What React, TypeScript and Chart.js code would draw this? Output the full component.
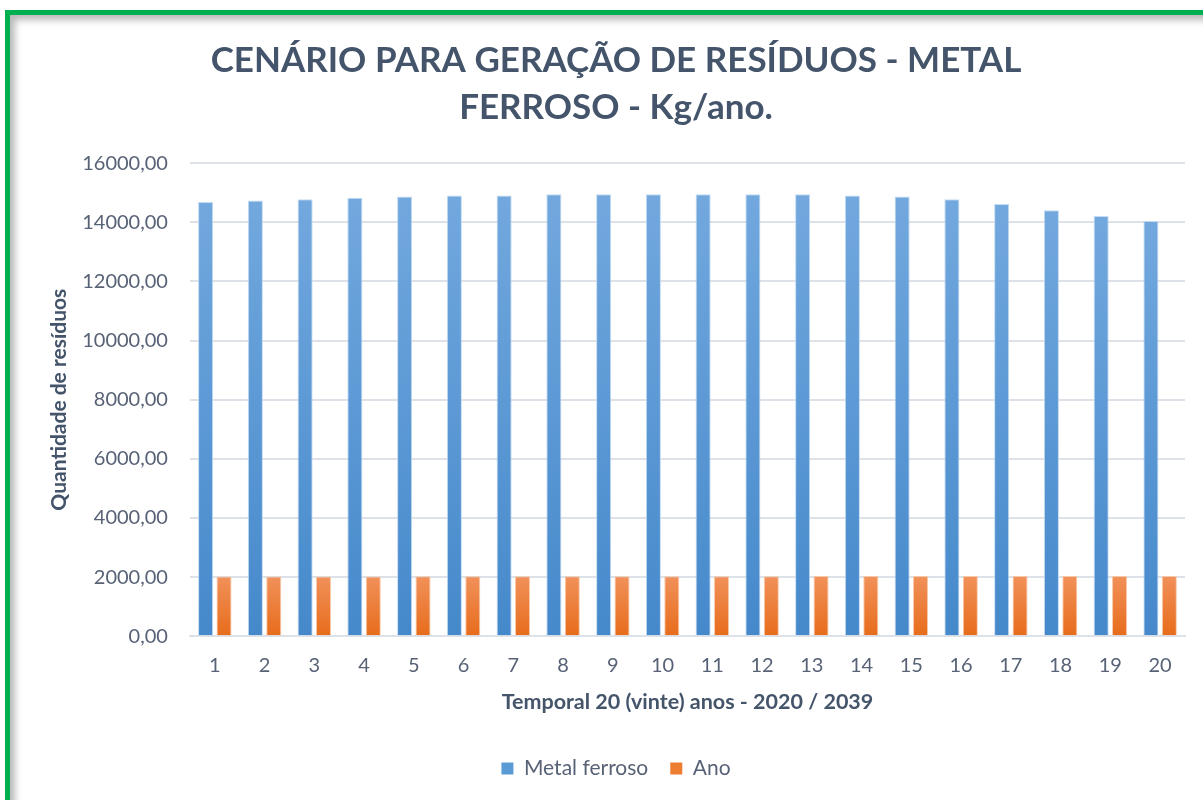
import React, { useEffect, useRef } from "react";
import { Chart, registerables } from "chart.js";

Chart.register(...registerables);

const categories = ["1", "2", "3", "4", "5", "6", "7", "8", "9", "10", "11", "12", "13", "14", "15", "16", "17", "18", "19", "20"];
const metalFerroso = [14690, 14740, 14780, 14830, 14870, 14910, 14910, 14950, 14950, 14950, 14950, 14950, 14950, 14910, 14870, 14780, 14620, 14410, 14210, 14040];
const ano = [2020, 2021, 2022, 2023, 2024, 2025, 2026, 2027, 2028, 2029, 2030, 2031, 2032, 2033, 2034, 2035, 2036, 2037, 2038, 2039];
const yTicks = [0, 2000, 4000, 6000, 8000, 10000, 12000, 14000, 16000];

const titleLines = ["CENÁRIO PARA GERAÇÃO DE RESÍDUOS - METAL", "FERROSO - Kg/ano."];
const yTitle = "Quantidade de resíduos";
const xTitle = "Temporal 20 (vinte) anos - 2020 / 2039";
const seriesNames = ["Metal ferroso", "Ano"];

const FONT = "Lato, 'Open Sans', sans-serif";
const TITLE_COLOR = "#44546a";
const TICK_COLOR = "#586276";

function barGradient(top: string, bottom: string) {
  return (context: any) => {
    const chart = context.chart;
    const y = chart.scales && chart.scales.y;
    if (!y || context.raw == null) return bottom;
    const y0 = y.getPixelForValue(0);
    const y1 = y.getPixelForValue(context.raw);
    if (!isFinite(y0) || !isFinite(y1) || y0 === y1) return bottom;
    const g = chart.ctx.createLinearGradient(0, y1, 0, y0);
    g.addColorStop(0, top);
    g.addColorStop(1, bottom);
    return g;
  };
}

export default function App() {
  const ref = useRef<HTMLCanvasElement>(null);

  useEffect(() => {
    if (!ref.current) return;
    const chart = new Chart(ref.current, {
      type: "bar",
      data: {
        labels: categories,
        datasets: [
          {
            label: seriesNames[0],
            data: metalFerroso,
            backgroundColor: barGradient("#72a8de", "#4589cb"),
            borderColor: "rgba(190,215,240,0.9)",
            borderWidth: 1,
            categoryPercentage: 0.74,
            barPercentage: 0.82,
          },
          {
            label: seriesNames[1],
            data: ano,
            backgroundColor: barGradient("#f1915a", "#e76c1b"),
            borderColor: "rgba(248,196,160,0.9)",
            borderWidth: 1,
            categoryPercentage: 0.74,
            barPercentage: 0.82,
          },
        ],
      },
      options: {
        responsive: false,
        animation: false,
        layout: { padding: { left: 47, right: 18, top: 30, bottom: 11 } },
        plugins: {
          title: {
            display: true,
            text: titleLines,
            color: TITLE_COLOR,
            font: { family: FONT, size: 35, weight: "bold", lineHeight: 1.345 },
            padding: { top: 7, bottom: 32 },
          },
          legend: {
            position: "bottom",
            labels: {
              color: TICK_COLOR,
              font: { family: FONT, size: 21 },
              boxWidth: 12,
              boxHeight: 12,
              padding: 22,
              generateLabels: () => [
                { text: seriesNames[0], fillStyle: "#5b9bd5", strokeStyle: "#5b9bd5", lineWidth: 0, datasetIndex: 0, fontColor: TICK_COLOR },
                { text: seriesNames[1], fillStyle: "#ed7d31", strokeStyle: "#ed7d31", lineWidth: 0, datasetIndex: 1, fontColor: TICK_COLOR },
              ],
            },
          },
          tooltip: { enabled: false },
        },
        scales: {
          x: {
            grid: { display: false, drawTicks: false },
            border: { display: true, color: "#dde1e8", width: 2 },
            ticks: { color: TICK_COLOR, font: { family: FONT, size: 20 }, padding: 17, maxRotation: 0 },
            title: {
              display: true,
              text: xTitle,
              color: TITLE_COLOR,
              font: { family: FONT, size: 21.5, weight: "bold" },
              padding: { top: -5, bottom: 21 },
            },
          },
          y: {
            min: 0,
            max: 16000,
            afterBuildTicks: (axis: any) => {
              axis.ticks = yTicks.map((v) => ({ value: v }));
            },
            grid: { color: "#dde1e8", lineWidth: 2, drawTicks: false },
            border: { display: false },
            ticks: {
              color: TICK_COLOR,
              font: { family: FONT, size: 20 },
              padding: 22,
              callback: (v: any) => Number(v).toFixed(2).replace(".", ","),
            },
            title: {
              display: true,
              text: yTitle,
              color: TITLE_COLOR,
              font: { family: FONT, size: 21, weight: "bold" },
              padding: { top: 0, bottom: -12 },
            },
          },
        },
      },
    });
    return () => chart.destroy();
  }, []);

  return (
    <div style={{ position: "fixed", left: 0, top: 0, width: 1203, height: 800, overflow: "hidden", background: "#ffffff" }}>
      <div
        style={{
          position: "absolute",
          left: 5,
          top: 10,
          width: 1400,
          height: 1000,
          border: "5px solid #00b050",
          boxShadow: "inset 5px 5px 7px rgba(0,0,0,0.28)",
          boxSizing: "border-box",
        }}
      />
      <canvas ref={ref} width={1203} height={800} style={{ position: "absolute", left: 0, top: 0 }} />
    </div>
  );
}
